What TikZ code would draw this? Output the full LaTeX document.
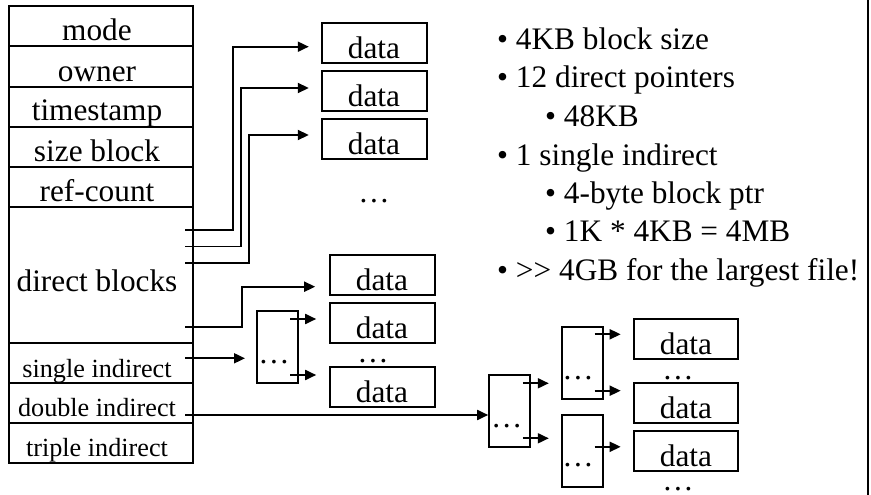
\documentclass[tikz,border=0pt]{standalone}
\usepackage{fontspec}
\setmainfont{Liberation Serif}
\newfontfamily\bigf{Liberation Serif}
\newfontfamily\smf{Liberation Serif}
\usetikzlibrary{arrows.meta,calc}
\begin{document}
\begin{tikzpicture}[x=1pt,y=-1pt,
  field/.style={draw,line width=2pt,minimum width=184pt,inner sep=0pt},
  lbl/.style={anchor=base,inner sep=0pt,font=\bigf\fontsize{31.3}{34}\selectfont},
  slbl/.style={anchor=base,inner sep=0pt,font=\smf\fontsize{26.2}{30}\selectfont},
  datab/.style={draw,line width=2pt,minimum width=105pt,minimum height=40pt,inner sep=0pt,
    text height=35.5pt,text depth=4.5pt,font=\bigf\fontsize{31.3}{34}\selectfont},
  indb/.style={draw,line width=2pt,minimum width=41pt,minimum height=72pt,inner sep=0pt},
  dotsl/.style={anchor=base,inner sep=0pt,font=\bigf\fontsize{31.3}{34}\selectfont},
  bul/.style={anchor=base west,inner sep=0pt,font=\bigf\fontsize{31.3}{34}\selectfont},
  arr/.style={line width=1.8pt,-{Triangle[length=11pt,width=10pt]}},
  ln/.style={line width=1.8pt}
]
\useasboundingbox (0,0) rectangle (871,495);

% inode fields
\node[field,minimum height=40pt] (fmode) at (101,26) {};
\node[field,minimum height=41pt] (fowner) at (101,66.5) {};
\node[field,minimum height=40pt] (ftime) at (101,107) {};
\node[field,minimum height=40pt] (fsize) at (101,147) {};
\node[field,minimum height=40pt] (fref) at (101,187) {};
\node[field,minimum height=136pt] (fdirect) at (101,275) {};
\node[field,minimum height=40pt] (fsingle) at (101,363) {};
\node[field,minimum height=40pt] (fdouble) at (101,403) {};
\node[field,minimum height=40pt] (ftriple) at (101,443) {};

\node[lbl] (tmode) at (97,40.5) {mode};
\node[lbl] (towner) at (97,81.5) {owner};
\node[lbl] (ttime) at (97,121) {timestamp};
\node[lbl] (tsize) at (97,161) {size block};
\node[lbl] (tref) at (97,201.5) {ref-count};
\node[lbl] (tdirect) at (97,291) {direct blocks};
\node[slbl] (tsingle) at (97,377) {single indirect};
\node[slbl] (tdouble) at (97,416.5) {double indirect};
\node[slbl] (ttriple) at (97,456.5) {triple indirect};

% direct data blocks
\node[datab] (db1) at (374,42.7) {data};
\node[datab] (db2) at (374,90.7) {data};
\node[datab] (db3) at (374,139) {data};
\node[dotsl] (dd1) at (374,202.5) {…};

\node[datab] (db4) at (382,275) {data};
\node[datab] (db5) at (382,322.7) {data};
\node[dotsl] (dd2) at (373,362) {…};
\node[datab] (db6) at (382,386.7) {data};

% single indirect block
\node[indb] (ib) at (277.8,347) {};
\node[dotsl] (ibd) at (274,363) {…};

% double indirect blocks
\node[indb] (l1) at (509.7,410.8) {};
\node[dotsl] (l1d) at (506.7,427.5) {…};
\node[indb] (l2a) at (582,362.8) {};
\node[dotsl] (l2ad) at (578,379) {…};
\node[indb] (l2b) at (582,450.8) {};
\node[dotsl] (l2bd) at (578,466.5) {…};

\node[datab,minimum width=104pt] (d1) at (686,339) {data};
\node[datab,minimum width=104pt] (d2) at (686,403) {data};
\node[datab,minimum width=104pt] (d3) at (686,451) {data};
\node[dotsl] (dd3) at (678,379) {…};
\node[dotsl] (dd4) at (678,490.5) {…};

% pointer start points
\coordinate (p1) at (185,230);
\coordinate (p2) at (185,246.5);
\coordinate (p3) at (185,262.7);
\coordinate (p4) at (185,326.7);
\coordinate (p5) at (185,358.3);
\coordinate (p6) at (185,415);

\draw[arr] (p1) -- ++(48,0) |- ($(db1.west)+(-11.7,4)$);
\draw[arr] (p2) -- ++(55.7,0) |- ($(db2.west)+(-11.7,-2.7)$);
\draw[arr] (p3) -- ++(64,0) |- ($(db3.west)+(-11.7,-4)$);
\draw[arr] (p4) -- ++(56.7,0) |- ($(db4.west)+(-13.3,11.7)$);
\draw[arr] (p5) -- ($(ib.west)+(-11.3,11.3)$);
\draw[arr] (p6) -- (p6 -| l1.west);

% single indirect pointers
\coordinate (s1) at ($(ib.east)+(-9,-28)$);
\coordinate (s2) at ($(ib.east)+(-9,28)$);
\draw[arr] (s1) -- ($(s1 -| db5.west)+(-12.3,0)$);
\draw[arr] (s2) -- ($(s2 -| db6.west)+(-12.3,0)$);

% double indirect pointers
\coordinate (q1) at ($(l1.east)+(-8.3,-27.5)$);
\coordinate (q2) at ($(l1.east)+(-8.3,27.5)$);
\draw[arr] (q1) -- ($(q1 -| l2a.west)+(-11.7,0)$);
\draw[arr] (q2) -- ($(q2 -| l2b.west)+(-11.7,0)$);

\coordinate (r1) at ($(l2a.east)+(-9,-28.5)$);
\coordinate (r2) at ($(l2a.east)+(-9,27.9)$);
\coordinate (r3) at ($(l2b.east)+(-9,-4)$);
\draw[arr] (r1) -- ($(r1 -| d1.west)+(-12.3,0)$);
\draw[arr] (r2) -- ($(r2 -| d2.west)+(-12.3,0)$);
\draw[arr] (r3) -- ($(r3 -| d3.west)+(-12.3,0)$);

% bullet text
\node[bul] (b1) at (497,49.3) {• 4KB block size};
\node[bul] (b2) at (497,88) {• 12 direct pointers};
\node[bul] (b3) at (545,126.5) {• 48KB};
\node[bul] (b4) at (497,165) {• 1 single indirect};
\node[bul] (b5) at (545,203.3) {• 4-byte block ptr};
\node[bul] (b6) at (545,241.7) {• 1K * 4KB = 4MB};
\node[bul] (b7) at (497,280) {• >> 4GB for the largest file!};

% right border line
\draw[line width=2pt] (867.5,0) -- (867.5,495);
\end{tikzpicture}
\end{document}
